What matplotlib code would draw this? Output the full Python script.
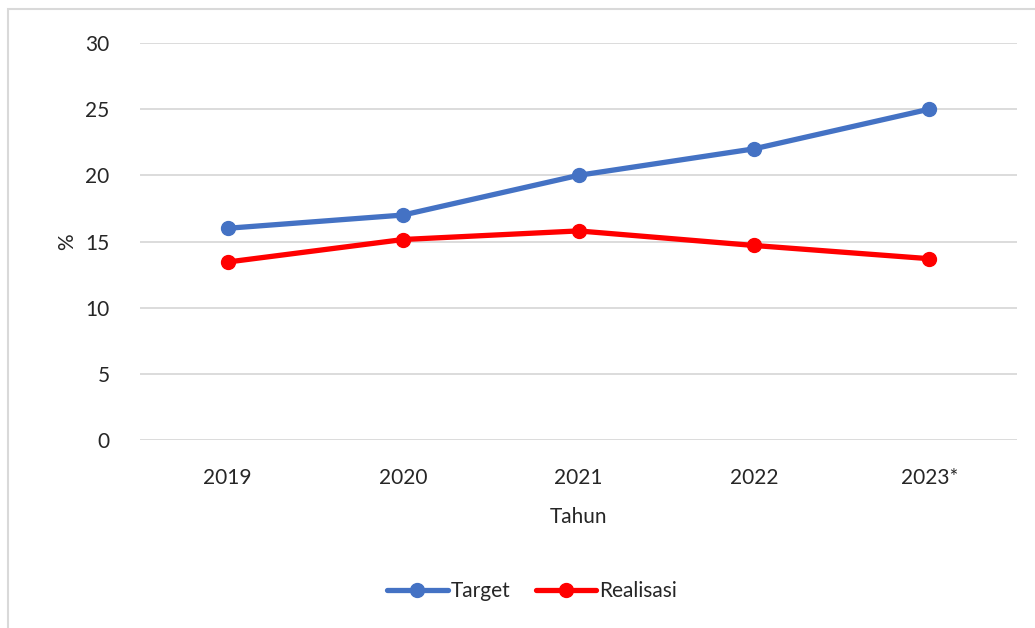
import matplotlib.pyplot as plt
from matplotlib.patches import Rectangle

years = ["2019", "2020", "2021", "2022", "2023*"]
target = [16, 17, 20, 22, 25]
realisasi = [13.45, 15.15, 15.8, 14.7, 13.7]

plt.rcParams['font.family'] = ['Lato', 'DejaVu Sans']

fig = plt.figure(figsize=(10.35, 6.28), dpi=100)
ax = fig.add_axes([140 / 1035, 1 - 440 / 628, 877 / 1035, 397 / 628])

x = list(range(len(years)))
ax.plot(x, target, color="#4472C4", lw=3.8, marker="o", ms=10, label="Target",
        solid_capstyle="round")
ax.plot(x, realisasi, color="#FF0000", lw=3.8, marker="o", ms=10, label="Realisasi",
        solid_capstyle="round")

ax.set_xlim(-0.5, len(years) - 0.5)
ax.set_ylim(0, 30)
ax.set_yticks(range(0, 31, 5))
ax.set_xticks(x)
ax.set_xticklabels(years)
ax.tick_params(axis="both", length=0, labelsize=15, colors="#262626")
ax.tick_params(axis="y", pad=22)
ax.tick_params(axis="x", pad=20)
ax.grid(axis="y", color="#D9D9D9", lw=1.3)
ax.set_axisbelow(True)
for s in ax.spines.values():
    s.set_visible(False)
ax.set_ylabel("%", fontsize=15, color="#262626", labelpad=6)
ax.set_xlabel("Tahun", fontsize=15, color="#262626", labelpad=14)

fig.legend(loc="center", bbox_to_anchor=(532 / 1035, 1 - 591 / 628), ncol=2,
           frameon=False, fontsize=15, handlelength=2.9, handletextpad=0.15,
           columnspacing=1.2, labelcolor="#262626")

fig.patches.append(Rectangle((8 / 1035, -0.05), 1.1, 1 - 9 / 628 + 0.05,
                             transform=fig.transFigure, fill=False,
                             edgecolor="#D9D9D9", lw=1.5))

fig.savefig("out.png", dpi=100)
